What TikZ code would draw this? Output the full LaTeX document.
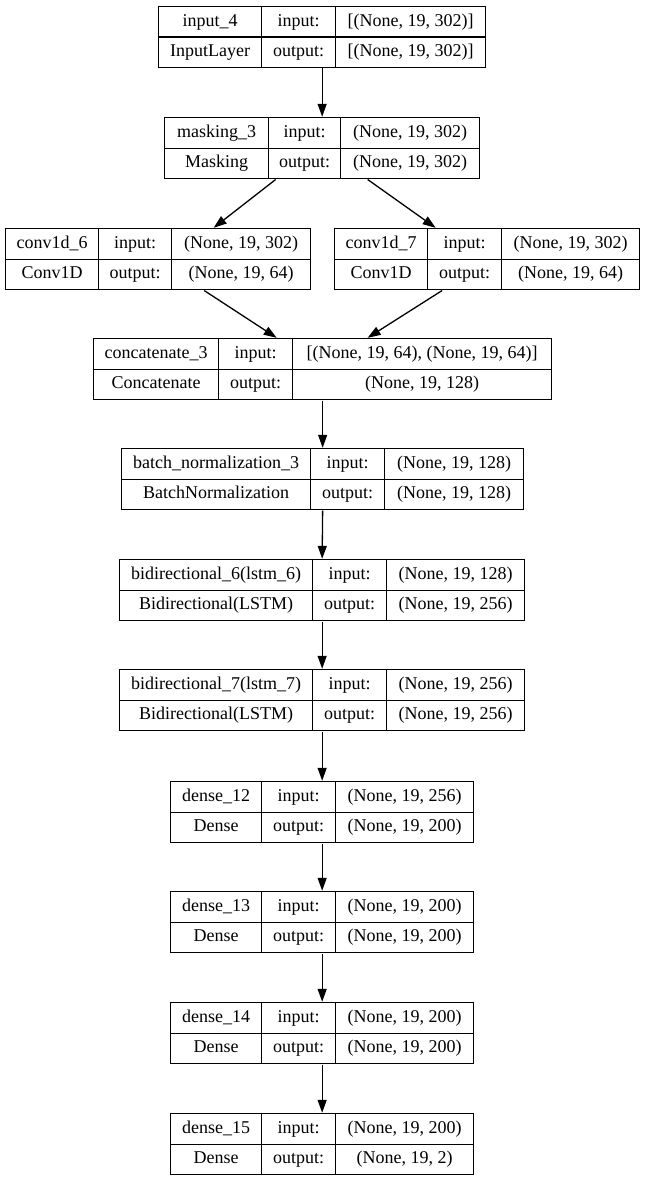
\documentclass[tikz,border=0pt]{standalone}
\usepackage{fontspec}
\setmainfont{Liberation Serif}
\usetikzlibrary{arrows.meta,positioning,fit,calc}
\tikzset{
  lcell/.style={draw,line width=1.3pt,minimum height=30.5pt,inner sep=0pt,text height=12.5pt,text depth=4pt,anchor=north west,font=\fontsize{18}{20}\selectfont},
  lbox/.style={inner sep=0pt},
  larr/.style={-{Triangle[length=13pt,width=9pt]},line width=1.3pt}
}

\begin{document}
\begin{tikzpicture}[x=1pt,y=-1pt]
  \useasboundingbox (0,0) rectangle (645,1180);
  \foreach \id/\xa/\xb/\xc/\xd/\yt/\nm/\ty/\shin/\shout in {
    inp/158/261/335/485/6/{input\_4}/{InputLayer}/{[(None, 19, 302)]}/{[(None, 19, 302)]},
    mask/164/268/340/479/117/{masking\_3}/{Masking}/{(None, 19, 302)}/{(None, 19, 302)},
    convA/5/98/171/310/228/{conv1d\_6}/{Conv1D}/{(None, 19, 302)}/{(None, 19, 64)},
    convB/334/427/501/639/228/{conv1d\_7}/{Conv1D}/{(None, 19, 302)}/{(None, 19, 64)},
    cat/93/218/292/551/338/{concatenate\_3}/{Concatenate}/{[(None, 19, 64), (None, 19, 64)]}/{(None, 19, 128)},
    bn/121/310/384/523/448/{batch\_normalization\_3}/{BatchNormalization}/{(None, 19, 128)}/{(None, 19, 128)},
    biA/119/312/386/524/559/{bidirectional\_6(lstm\_6)}/{Bidirectional(LSTM)}/{(None, 19, 128)}/{(None, 19, 256)},
    biB/119/312/386/524/669/{bidirectional\_7(lstm\_7)}/{Bidirectional(LSTM)}/{(None, 19, 256)}/{(None, 19, 256)},
    dA/170/261/335/473/781/{dense\_12}/{Dense}/{(None, 19, 256)}/{(None, 19, 200)},
    dB/170/261/335/473/891/{dense\_13}/{Dense}/{(None, 19, 200)}/{(None, 19, 200)},
    dC/170/261/335/473/1002/{dense\_14}/{Dense}/{(None, 19, 200)}/{(None, 19, 200)},
    dD/170/261/335/473/1113/{dense\_15}/{Dense}/{(None, 19, 200)}/{(None, 19, 2)}}{
    \pgfmathsetmacro\wa{\xb-\xa}
    \pgfmathsetmacro\wb{\xc-\xb}
    \pgfmathsetmacro\wc{\xd-\xc}
    \node[lcell,minimum width=\wa pt] (\id-nm) at (\xa,\yt) {\nm};
    \node[lcell,minimum width=\wa pt] (\id-ty) at (\xa,\yt+30.5) {\ty};
    \node[lcell,minimum width=\wb pt] (\id-li) at (\xb,\yt) {input:};
    \node[lcell,minimum width=\wb pt] (\id-lo) at (\xb,\yt+30.5) {output:};
    \node[lcell,minimum width=\wc pt] (\id-si) at (\xc,\yt) {\shin};
    \node[lcell,minimum width=\wc pt] (\id-so) at (\xc,\yt+30.5) {\shout};
    \node[lbox,fit=(\id-nm)(\id-so)] (\id) {};
  }
  % branches
  \draw[larr] ([xshift=-46.5pt]mask.south) -- ([xshift=55.5pt]convA.north);
  \draw[larr] ([xshift=45.5pt]mask.south) -- ([xshift=-51.5pt]convB.north);
  \draw[larr] ([xshift=46pt]convA.south) -- ([xshift=-46pt]cat.north);
  \draw[larr] ([xshift=-45pt]convB.south) -- ([xshift=45pt]cat.north);
  % main column
  \foreach \a/\b in {inp/mask,cat/bn,bn/biA,biA/biB,biB/dA,dA/dB,dB/dC,dC/dD}
    \draw[larr] (\a.south) -- (\b.north);
\end{tikzpicture}
\end{document}
